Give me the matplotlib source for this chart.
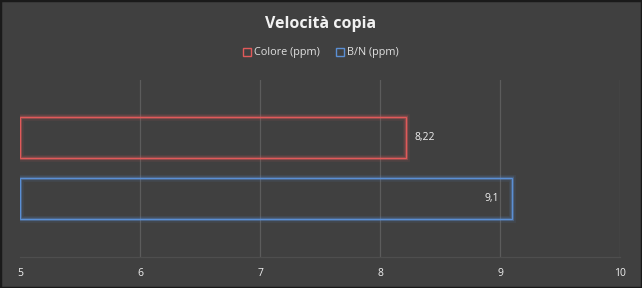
import matplotlib
matplotlib.use("Agg")
import matplotlib.pyplot as plt
from matplotlib.patches import Rectangle

plt.rcParams['font.family'] = ['Open Sans', 'DejaVu Sans']

categories = ["B/N (ppm)", "Colore (ppm)"]
values = [9.1, 8.22]
labels = ["9,1", "8,22"]
colors = ["#5b8fd4", "#e05a5a"]
xticks = [5, 6, 7, 8, 9, 10]

bg = "#404040"
fig = plt.figure(figsize=(6.42, 2.88), dpi=100, facecolor=bg)
W, H = 642, 288
ax = fig.add_axes([20 / W, 1 - 257 / H, 600 / W, 177 / H])
ax.set_facecolor(bg)
ax.set_xlim(5, 10)
ax.set_ylim(-0.96, 1.94)

ypos = [0, 1]
bh = 0.67
for y, v, c in zip(ypos, values, colors):
    # glow
    for lw, a in [(5, 0.08), (3.2, 0.15), (2.2, 0.25)]:
        ax.barh(y, v - 5, left=5, height=bh, facecolor="none", edgecolor=c,
                linewidth=lw, alpha=a, zorder=3)
    ax.barh(y, v - 5, left=5, height=bh, facecolor="none", edgecolor=c,
            linewidth=0.9, zorder=4)

# data labels
ax.text(values[1] + 0.07, ypos[1], labels[1], color="#f0f0f0", fontsize=7.5,
        va="center", ha="left", zorder=5)
ax.text(values[0] - 0.11, ypos[0], labels[0], color="#f0f0f0", fontsize=7.5,
        va="center", ha="right", zorder=5)

ax.set_xticks(xticks)
ax.set_xticklabels([str(t) for t in xticks], color="#f0f0f0", fontsize=7.5)
ax.tick_params(axis="x", length=0, pad=8)
ax.set_yticks([])
for t in xticks[1:]:
    ax.axvline(t, color="#5c5c5c", linewidth=0.9, zorder=1)
for s in ["top", "left", "right"]:
    ax.spines[s].set_visible(False)
ax.spines["bottom"].set_color("#4e4e4e")
ax.spines["bottom"].set_linewidth(0.9)

fig.text(0.5, 1 - 24 / H, "Velocità copia", color="#f2f2f2", fontsize=11.5,
         fontweight="bold", ha="center", va="center")

handles = [Rectangle((0, 0), 1, 1, facecolor="none", edgecolor=colors[1], linewidth=1),
           Rectangle((0, 0), 1, 1, facecolor="none", edgecolor=colors[0], linewidth=1)]
leg = fig.legend(handles, [categories[1], categories[0]], loc="center",
                 bbox_to_anchor=(0.5, 1 - 53 / H), ncol=2, frameon=False,
                 fontsize=7.8, handlelength=0.7, handleheight=0.7,
                 handletextpad=0.3, columnspacing=1.5, labelcolor="#e0e0e0")

border = Rectangle((0, 0), 1, 1, transform=fig.transFigure, facecolor="none",
                   edgecolor="#1a1a1a", linewidth=2.5)
fig.patches.append(border)

fig.savefig("out.png", dpi=100, facecolor=bg)
